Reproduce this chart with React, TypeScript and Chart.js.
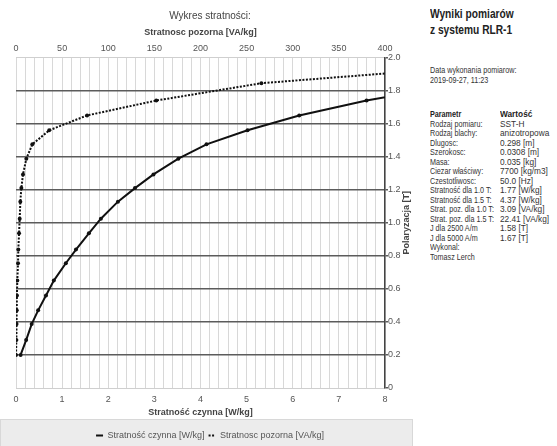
import React, { useEffect, useRef } from "react";
import { Chart, registerables } from "chart.js";

Chart.register(...registerables);

// Polarization J [T] (shared by both series)
const polarization = [0.2, 0.29, 0.387, 0.47, 0.56, 0.65, 0.755, 0.838, 0.936, 1.025, 1.128, 1.21, 1.293, 1.388, 1.475, 1.56, 1.65, 1.74, 1.845, 1.93];
// Active loss [W/kg]
const activeLoss = [0.1, 0.22, 0.34, 0.48, 0.65, 0.82, 1.08, 1.3, 1.58, 1.84, 2.21, 2.58, 2.98, 3.52, 4.13, 5.02, 6.14, 7.6, 9.7, 12.5];
// Apparent loss [VA/kg]
const apparentLoss = [0, 0.4, 0.6, 0.8, 1.0, 1.4, 2.2, 2.5, 3.3, 4.0, 4.7, 5.8, 7.6, 11.2, 17.7, 36, 77, 152, 266, 460];

const chartTitle = "Wykres stratności:";
const seriesLabels = ["Stratność czynna [W/kg]", "Stratnosc pozorna [VA/kg]"];
const xBottomTitle = "Stratność czynna [W/kg]";
const xTopTitle = "Stratnosc pozorna [VA/kg]";
const yTitle = "Polaryzacja [T]";

const panelTitle = ["Wyniki pomiarów", "z systemu RLR-1"];
const panelDate = ["Data wykonania pomiarow:", "2019-09-27, 11:23"];
const paramNames = ["Rodzaj pomiaru:", "Rodzaj blachy:", "Dlugosc:", "Szerokosc:", "Masa:", "Ciezar właściwy:", "Czestotliwosc:", "Stratność dla 1.0 T:", "Stratność dla 1.5 T:", "Strat. poz. dla 1.0 T:", "Strat. poz. dla 1.5 T:", "J dla 2500 A/m", "J dla 5000 A/m"];
const paramValues = ["SST-H", "anizotropowa", "0.298 [m]", "0.0308 [m]", "0.035 [kg]", "7700 [kg/m3]", "50.0 [Hz]", "1.77 [W/kg]", "4.37 [W/kg]", "3.09 [VA/kg]", "22.41 [VA/kg]", "1.58 [T]", "1.67 [T]"];
const footerLines = ["Wykonal:", "Tomasz Lerch"];

const FONT = "'Liberation Sans', Arial, sans-serif";
const CANVAS_W = 420;
const CANVAS_H = 450;

const bgPlugin = {
  id: "legendBand",
  beforeDraw(chart: any) {
    const ctx = chart.ctx;
    ctx.save();
    ctx.fillStyle = "#ececec";
    ctx.fillRect(0, 419, 413, CANVAS_H - 419);
    ctx.strokeStyle = "#d8d8d8";
    ctx.lineWidth = 1;
    ctx.strokeRect(0.5, 419.5, 412, CANVAS_H);
    ctx.restore();
  },
};

const yTitlePlugin = {
  id: "yTitleRight",
  afterDraw(chart: any) {
    const ctx = chart.ctx;
    const a = chart.chartArea;
    ctx.save();
    ctx.translate(407, (a.top + a.bottom) / 2);
    ctx.rotate(-Math.PI / 2);
    ctx.font = "bold 9px " + FONT;
    ctx.fillStyle = "#444";
    ctx.textAlign = "center";
    ctx.textBaseline = "middle";
    ctx.fillText(yTitle, 0, 0);
    ctx.restore();
  },
};

function ChartView() {
  const ref = useRef<HTMLCanvasElement | null>(null);
  useEffect(() => {
    if (!ref.current) return;
    const chart = new Chart(ref.current, {
      type: "line",
      data: {
        datasets: [
          {
            label: seriesLabels[0],
            data: polarization.map((y, i) => ({ x: activeLoss[i], y })),
            xAxisID: "x",
            yAxisID: "y",
            borderColor: "#111",
            backgroundColor: "#111",
            borderWidth: 2,
            pointRadius: 2,
            pointBorderWidth: 0,
            tension: 0,
          },
          {
            label: seriesLabels[1],
            data: polarization.map((y, i) => ({ x: apparentLoss[i], y })),
            xAxisID: "x2",
            yAxisID: "y",
            borderColor: "#111",
            backgroundColor: "#111",
            borderWidth: 2,
            borderDash: [2, 1.5],
            pointRadius: 2,
            pointBorderWidth: 0,
            tension: 0,
          },
        ],
      },
      options: {
        responsive: false,
        animation: false,
        devicePixelRatio: 1,
        layout: { padding: 0 },
        plugins: {
          title: {
            display: true,
            text: chartTitle,
            color: "#444",
            font: { family: FONT, size: 10, weight: "normal" },
            padding: { top: 10.6, bottom: 1.6 },
          },
          legend: {
            display: true,
            position: "bottom",
            labels: {
              color: "#555",
              font: { family: FONT, size: 9 },
              usePointStyle: true,
              pointStyle: "line",
              pointStyleWidth: 7,
              padding: 4,
              generateLabels: (c: any) => {
                const items = (Chart as any).defaults.plugins.legend.labels.generateLabels(c);
                return items.map((it: any, i: number) => ({
                  ...it,
                  lineWidth: 2,
                  strokeStyle: "#111",
                  fillStyle: "#111",
                  fontColor: "#555",
                  pointStyle: "line",
                  lineDash: i === 1 ? [2, 1.5] : [],
                }));
              },
            },
          },
          tooltip: { enabled: false },
        },
        scales: {
          x: {
            type: "linear",
            position: "bottom",
            min: 0,
            max: 8,
            afterFit: (s: any) => { s.height = 39; },
            ticks: {
              stepSize: 0.2,
              autoSkip: false,
              maxRotation: 0,
              padding: 6,
              color: "#555",
              font: { family: FONT, size: 9 },
              callback: (v: any) => (Math.abs(v - Math.round(v)) < 1e-6 ? String(Math.round(v)) : ""),
            },
            grid: { color: "#d8d8d8", lineWidth: 1, drawTicks: false },
            border: { display: true, color: "#cfcfcf", width: 1 },
            title: {
              display: true,
              text: xBottomTitle,
              color: "#444",
              font: { family: FONT, size: 9, weight: "bold" },
              padding: { top: 0, bottom: 8.6 },
            },
          },
          x2: {
            type: "linear",
            position: "top",
            min: 0,
            max: 400,
            afterFit: (s: any) => { s.height = 33.4; },
            ticks: {
              stepSize: 50,
              maxRotation: 0,
              padding: 4,
              color: "#555",
              font: { family: FONT, size: 9 },
            },
            grid: { display: false, drawTicks: false },
            border: { display: true, color: "#cfcfcf", width: 1 },
            title: {
              display: true,
              text: xTopTitle,
              color: "#444",
              font: { family: FONT, size: 9, weight: "bold" },
              padding: { top: 3.4, bottom: 0 },
            },
          },
          yLeft: {
            type: "linear",
            position: "left",
            min: 0,
            max: 2,
            afterFit: (s: any) => { s.width = 16; },
            ticks: { display: false },
            grid: { display: false, drawTicks: false },
            border: { display: false },
          },
          y: {
            type: "linear",
            position: "right",
            min: 0,
            max: 2,
            afterFit: (s: any) => { s.width = 35; },
            ticks: {
              stepSize: 0.2,
              padding: 0,
              color: "#555",
              font: { family: FONT, size: 9 },
            },
            grid: {
              color: (c: any) => (c.tick && (c.tick.value <= 0.001 || c.tick.value >= 1.999) ? "rgba(0,0,0,0)" : "#5c5c5c"),
              tickColor: "#5c5c5c",
              lineWidth: 1.5,
              tickLength: 3,
            },
            border: { display: true, color: "#444", width: 1.5 },
          },
        },
      },
      plugins: [bgPlugin, yTitlePlugin],
    } as any);
    return () => chart.destroy();
  }, []);
  return <canvas ref={ref} width={CANVAS_W} height={CANVAS_H} style={{ position: "absolute", left: 0, top: 0, width: CANVAS_W, height: CANVAS_H }} />;
}

export default function App() {
  useEffect(() => {
    document.body.style.margin = "0";
  }, []);
  const rowTop = 114;
  const rowH = 9.5;
  const txt: React.CSSProperties = {
    position: "absolute",
    fontFamily: FONT,
    fontSize: 9,
    color: "#333",
    whiteSpace: "nowrap",
    lineHeight: "10px",
    transform: "scaleX(0.8)",
    transformOrigin: "0 0",
  };
  const valTxt: React.CSSProperties = { ...txt, transform: "scaleX(0.92)" };
  return (
    <div style={{ position: "relative", width: 557, height: 446, overflow: "hidden", background: "#fff" }}>
      <ChartView />
      <div style={{ ...txt, left: 430, top: 6, fontSize: 12, fontWeight: "bold", lineHeight: "16px", color: "#222", transform: "scaleX(0.85)" }}>
        {panelTitle[0]}<br />{panelTitle[1]}
      </div>
      <div style={{ ...txt, left: 430, top: 65 }}>{panelDate[0]}</div>
      <div style={{ ...txt, left: 430, top: 75 }}>{panelDate[1]}</div>
      <div style={{ ...txt, left: 430, top: rowTop - 5, fontWeight: "bold", color: "#222" }}>Parametr</div>
      <div style={{ ...valTxt, left: 500, top: rowTop - 5, fontWeight: "bold", color: "#222" }}>Wartość</div>
      {paramNames.map((p, i) => (
        <div key={"p" + i} style={{ ...txt, left: 430, top: rowTop - 5 + (i + 1) * rowH }}>{p}</div>
      ))}
      {paramValues.map((v, i) => (
        <div key={"v" + i} style={{ ...valTxt, left: 500, top: rowTop - 5 + (i + 1) * rowH }}>{v}</div>
      ))}
      {footerLines.map((f, i) => (
        <div key={"f" + i} style={{ ...txt, left: 430, top: rowTop - 5 + (paramNames.length + 1 + i) * rowH }}>{f}</div>
      ))}
    </div>
  );
}
